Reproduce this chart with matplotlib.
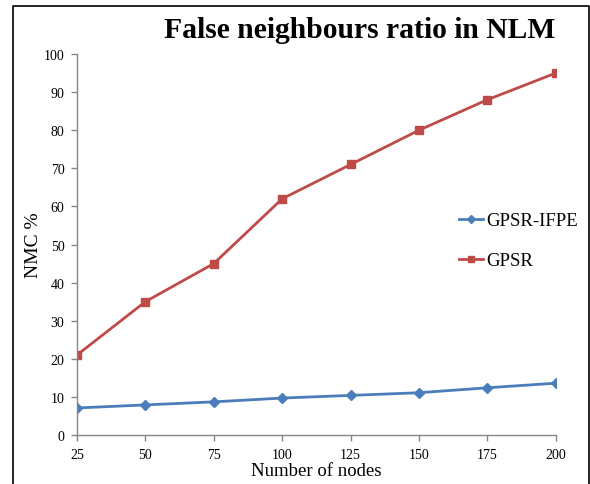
import matplotlib
matplotlib.use('Agg')
import matplotlib.pyplot as plt
import matplotlib.lines as mlines

# data
nodes = [25, 50, 75, 100, 125, 150, 175, 200]
gpsr_ifpe = [7.1, 7.9, 8.7, 9.7, 10.4, 11.1, 12.4, 13.6]
gpsr = [21, 35, 45, 62, 71, 80, 88, 95]
yticks = list(range(0, 101, 10))

plt.rcParams['font.family'] = ['Liberation Serif', 'DejaVu Serif']

fig = plt.figure(figsize=(5.9, 4.85), dpi=100)
ax = fig.add_axes([0.1305, 0.101, 0.8115, 0.7856])

BLUE = '#4a7ebb'
RED = '#be4b48'

ax.plot(nodes, gpsr_ifpe, color=BLUE, lw=2, marker='D', ms=5.5,
        label='GPSR-IFPE')
ax.plot(nodes, gpsr, color=RED, lw=2, marker='s', ms=6, label='GPSR')

ax.set_xlim(25, 200)
ax.set_ylim(0, 100)
ax.set_xticks(nodes)
ax.set_yticks(yticks)
ax.tick_params(labelsize=10, color='#868686', length=4, width=1)
ax.tick_params(axis='x', pad=5)
ax.tick_params(axis='y', pad=5)

for s in ['top', 'right']:
    ax.spines[s].set_visible(False)
for s in ['left', 'bottom']:
    ax.spines[s].set_color('#868686')
    ax.spines[s].set_linewidth(1)
for lab in ax.get_xticklabels() + ax.get_yticklabels():
    lab.set_clip_on(False)

ax.set_xlabel('Number of nodes', fontsize=13.5, labelpad=1)
ax.set_ylabel('NMC %', fontsize=14, labelpad=1)

fig.text(0.61, 0.938, 'False neighbours ratio in NLM', fontsize=21.3,
         fontweight='bold', ha='center', va='center')

h1 = mlines.Line2D([], [], color=BLUE, lw=2, marker='D', ms=4)
h2 = mlines.Line2D([], [], color=RED, lw=2, marker='s', ms=5)
ax.legend([h1, h2], ['GPSR-IFPE', 'GPSR'], loc='center left',
          bbox_to_anchor=(0.762, 0.51), frameon=False, fontsize=13.5,
          handlelength=1.3, handletextpad=0.15, labelspacing=1.2)

# outer frame (left, top, right edges)
fig.add_artist(mlines.Line2D([0.022, 0.022, 0.998, 0.998],
                             [-0.1, 0.986, 0.986, -0.1],
                             transform=fig.transFigure, color='black', lw=1.2))

fig.savefig('out.png', dpi=100)
